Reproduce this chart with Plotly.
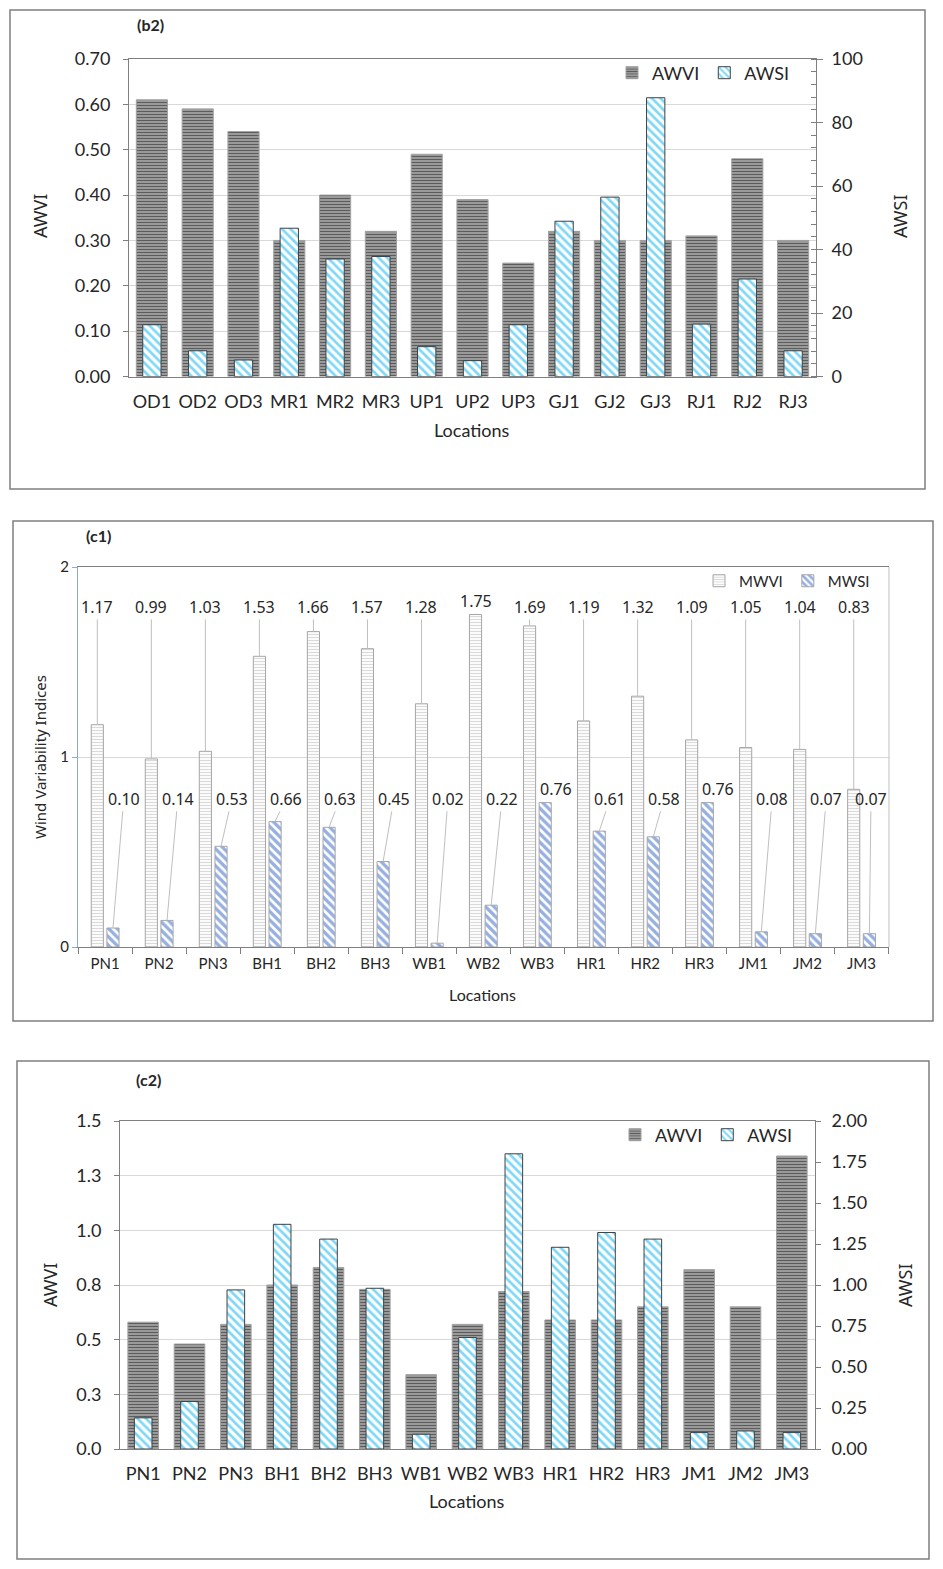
import plotly.graph_objects as go

# ---- data -------------------------------------------------------------
b2_locations = ['OD1', 'OD2', 'OD3', 'MR1', 'MR2', 'MR3', 'UP1', 'UP2', 'UP3',
                'GJ1', 'GJ2', 'GJ3', 'RJ1', 'RJ2', 'RJ3']
b2_awvi = [0.61, 0.59, 0.54, 0.30, 0.40, 0.32, 0.49, 0.39, 0.25,
           0.32, 0.30, 0.30, 0.31, 0.48, 0.30]
b2_awsi = [16.3, 8.1, 5.2, 46.7, 37.0, 37.8, 9.4, 5.0, 16.3,
           48.9, 56.5, 87.8, 16.5, 30.7, 8.1]

c_locations = ['PN1', 'PN2', 'PN3', 'BH1', 'BH2', 'BH3', 'WB1', 'WB2', 'WB3',
               'HR1', 'HR2', 'HR3', 'JM1', 'JM2', 'JM3']
c1_mwvi = [1.17, 0.99, 1.03, 1.53, 1.66, 1.57, 1.28, 1.75, 1.69,
           1.19, 1.32, 1.09, 1.05, 1.04, 0.83]
c1_mwsi = [0.10, 0.14, 0.53, 0.66, 0.63, 0.45, 0.02, 0.22, 0.76,
           0.61, 0.58, 0.76, 0.08, 0.07, 0.07]

c2_awvi = [0.58, 0.48, 0.57, 0.75, 0.83, 0.73, 0.34, 0.57, 0.72,
           0.59, 0.59, 0.65, 0.82, 0.65, 1.34]
c2_awsi = [0.19, 0.29, 0.97, 1.37, 1.28, 0.98, 0.09, 0.68, 1.80,
           1.23, 1.32, 1.28, 0.10, 0.11, 0.10]

# ---- page geometry (screen px -> paper) ------------------------------
W, H, OFF = 927, 1553, 8


def px(x):
    return (x - OFF) / W


def py(y):
    return 1 - (y - OFF) / H


TXT = '#262626'
AX = '#808080'
GRID = '#d9d9d9'
BIG = dict(family='Lato, sans-serif', size=18, color=TXT)
SMALL = dict(family='Lato, sans-serif', size=15, color=TXT)

dark_stripes = dict(shape='-', fgcolor='#000000', bgcolor='#b8b8b8', size=3, solidity=0.55)
cyan_diag = dict(shape='\\', fgcolor='#00b0f0', bgcolor='white', size=6, solidity=0.45)
grey_stripes = dict(shape='-', fgcolor='#b5b5b5', bgcolor='white', size=3, solidity=0.4)
blue_diag = dict(shape='\\', fgcolor='#2e60c4', bgcolor='white', size=6, solidity=0.55)

fig = go.Figure()

# (b2)
fig.add_bar(x=b2_locations, y=b2_awvi, name='AWVI', width=0.68, xaxis='x', yaxis='y',
            marker=dict(pattern=dark_stripes, line=dict(color='#a0a0a0', width=1)), legend='legend')
fig.add_bar(x=b2_locations, y=b2_awsi, name='AWSI', width=0.4, xaxis='x', yaxis='y2',
            marker=dict(pattern=cyan_diag, line=dict(color='#404040', width=1)), legend='legend')

# (c1)
fig.add_bar(x=c_locations, y=c1_mwvi, name='MWVI', width=0.225, offset=-0.255, xaxis='x2', yaxis='y3',
            marker=dict(pattern=grey_stripes, line=dict(color='#a6a6a6', width=1)), legend='legend2')
fig.add_bar(x=c_locations, y=c1_mwsi, name='MWSI', width=0.225, offset=0.035, xaxis='x2', yaxis='y3',
            marker=dict(pattern=blue_diag, line=dict(color='#a6a6a6', width=1)), legend='legend2')

# (c2)
fig.add_bar(x=c_locations, y=c2_awvi, name='AWVI', width=0.66, xaxis='x3', yaxis='y4',
            marker=dict(pattern=dark_stripes, line=dict(color='#a0a0a0', width=1)), legend='legend3')
fig.add_bar(x=c_locations, y=c2_awsi, name='AWSI', width=0.38, xaxis='x3', yaxis='y5',
            marker=dict(pattern=cyan_diag, line=dict(color='#404040', width=1)), legend='legend3')

annotations = []
label_font = dict(family='Noto Sans, sans-serif', size=16, color=TXT)
# data labels for (c1) with leader lines
for i, (v, s) in enumerate(zip(c1_mwvi, c1_mwsi)):
    annotations.append(dict(x=i - 0.1425, y=v, xref='x2', yref='y3', axref='x2', ayref='y3',
                            ax=i - 0.1425, ay=max(1.79, v + 0.07), text=f'{v:.2f}',
                            showarrow=True, arrowhead=0, arrowwidth=1, arrowcolor='#bfbfbf',
                            standoff=0, font=label_font))
    dx = 0.2 if i < len(c1_mwsi) - 1 else 0.03
    annotations.append(dict(x=i + 0.1475, y=s, xref='x2', yref='y3', axref='x2', ayref='y3',
                            ax=i + 0.1475 + dx, ay=max(0.78, s + 0.07), text=f'{s:.2f}',
                            showarrow=True, arrowhead=0, arrowwidth=1, arrowcolor='#bfbfbf',
                            standoff=0, font=label_font))

# panel tags and axis titles
for t, x, y in [('(b2)', 150, 25), ('(c1)', 98, 535), ('(c2)', 148, 1079)]:
    annotations.append(dict(text=f'<b>{t}</b>', x=px(x), y=py(y), xref='paper', yref='paper',
                            xanchor='center', yanchor='middle', showarrow=False,
                            font=dict(family='Lato, sans-serif', size=16, color=TXT)))
for t, x, y, size in [('Locations', 472, 430, 18), ('Locations', 483, 994, 16), ('Locations', 467, 1501, 18)]:
    annotations.append(dict(text=t, x=px(x), y=py(y), xref='paper', yref='paper', showarrow=False,
                            xanchor='center', yanchor='middle',
                            font=dict(family='Lato, sans-serif', size=size, color=TXT)))
for t, x, y, size in [('AWVI', 40, 216, 18), ('AWSI', 900, 216, 18), ('Wind Variability Indices', 40, 757, 15),
                      ('AWVI', 50, 1285, 18), ('AWSI', 905, 1285, 18)]:
    annotations.append(dict(text=t, x=px(x), y=py(y), xref='paper', yref='paper', showarrow=False,
                            xanchor='center', yanchor='middle', textangle=-90,
                            font=dict(family='Noto Sans, sans-serif', size=size, color=TXT)))

shapes = []
for x0, y0, x1, y1 in [(10, 10, 925, 489), (13, 521, 933, 1021), (17, 1061, 929, 1559)]:
    shapes.append(dict(type='rect', xref='paper', yref='paper', x0=px(x0), x1=px(x1), y0=py(y0), y1=py(y1),
                       line=dict(color='#7f7f7f', width=1.5)))
shapes.append(dict(type='line', xref='paper', yref='paper', x0=px(889), x1=px(889), y0=py(947), y1=py(567),
                   line=dict(color='#bfbfbf', width=1)))

cat_axis = dict(type='category', showline=True, linecolor=AX, mirror=True, ticks='', showgrid=False,
                automargin=False)

fig.update_layout(
    width=W, height=H, margin=dict(l=0, r=0, t=0, b=0, autoexpand=False),
    paper_bgcolor='white', plot_bgcolor='white', barmode='overlay',
    xaxis=dict(cat_axis, domain=[px(129), px(816)], anchor='y', tickfont=BIG, ticklabelstandoff=9),
    yaxis=dict(domain=[py(376.5), py(59)], range=[0, 0.7], dtick=0.1, tickformat='.2f',
               showgrid=True, gridcolor=GRID, showline=True, linecolor=AX, ticks='outside',
               ticklen=5, tickcolor=AX, tickfont=BIG, anchor='x', ticklabelstandoff=9, automargin=False),
    yaxis2=dict(overlaying='y', side='right', anchor='x', range=[0, 100], dtick=20,
                showgrid=False, showline=True, linecolor=AX, ticks='outside', ticklen=6,
                tickcolor=AX, tickfont=BIG, ticklabelstandoff=5, automargin=False,
                minor=dict(dtick=4, ticks='inside', ticklen=5, tickcolor=AX, showgrid=False)),
    xaxis2=dict(type='category', showline=True, linecolor=AX, mirror=True, showgrid=False,
                domain=[px(78), px(889)], anchor='y3', ticks='outside', tickson='boundaries',
                ticklen=6, tickcolor=AX, tickfont=SMALL, ticklabelstandoff=3, automargin=False),
    yaxis3=dict(domain=[py(947), py(567)], range=[0, 2], dtick=1, tickformat='d',
                showgrid=True, gridcolor=GRID, showline=True, linecolor='#8eaadb', ticks='outside',
                ticklen=5, tickcolor='#8eaadb', tickfont=SMALL, anchor='x2', automargin=False),
    xaxis3=dict(cat_axis, domain=[px(120), px(815)], anchor='y4', tickfont=BIG, ticklabelstandoff=8),
    yaxis4=dict(domain=[py(1449), py(1121)], range=[0, 1.5], dtick=0.25, tickformat='.1f',
                showgrid=True, gridcolor=GRID, showline=True, linecolor=AX, ticks='outside',
                ticklen=5, tickcolor=AX, tickfont=BIG, anchor='x3', ticklabelstandoff=9, automargin=False),
    yaxis5=dict(overlaying='y4', side='right', anchor='x3', range=[0, 2], dtick=0.25, tickformat='.2f',
                showgrid=False, showline=True, linecolor=AX, ticks='outside', ticklen=5,
                tickcolor=AX, tickfont=BIG, ticklabelstandoff=7, automargin=False),
    legend=dict(orientation='h', x=px(795), y=py(73), xanchor='right', yanchor='middle',
                font=BIG, bgcolor='rgba(0,0,0,0)', itemwidth=30),
    legend2=dict(orientation='h', x=px(875), y=py(581), xanchor='right', yanchor='middle',
                 font=SMALL, bgcolor='rgba(0,0,0,0)', itemwidth=30),
    legend3=dict(orientation='h', x=px(798), y=py(1135), xanchor='right', yanchor='middle',
                 font=BIG, bgcolor='rgba(0,0,0,0)', itemwidth=30),
    annotations=annotations, shapes=shapes,
)

fig.write_html("out.html")
